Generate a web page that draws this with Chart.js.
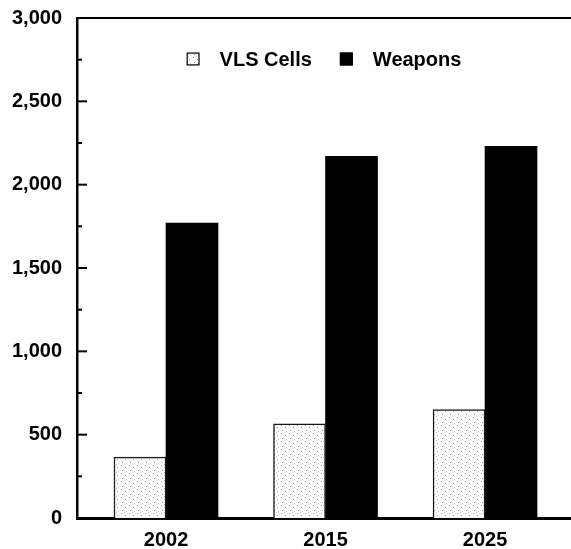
<!DOCTYPE html>
<html>
<head>
<meta charset="utf-8">
<script src="https://cdn.jsdelivr.net/npm/chart.js@4/dist/chart.umd.min.js"></script>
<style>
  html, body { margin: 0; padding: 0; background: #fff; }
  #wrap { width: 571px; height: 549px; }
</style>
</head>
<body>
<div id="wrap"><canvas id="c" width="571" height="549"></canvas></div>
<script>
// ---- data ----
const categories = ['2002', '2015', '2025'];
const seriesNames = ['VLS Cells', 'Weapons'];
const vlsCells = [365, 565, 650];
const weapons = [1770, 2170, 2230];
const yTicks = [0, 500, 1000, 1500, 2000, 2500, 3000];

// ---- styling helpers ----
function makeStipple() {
  const c = document.createElement('canvas');
  c.width = 8; c.height = 8;
  const g = c.getContext('2d');
  g.fillStyle = '#ffffff';
  g.fillRect(0, 0, 8, 8);
  g.fillStyle = '#a0a0a0';
  g.fillRect(1, 1, 1, 1);
  g.fillRect(5, 3, 1, 1);
  g.fillRect(2, 6, 1, 1);
  g.fillStyle = '#d0d0d0';
  g.fillRect(6, 7, 1, 1);
  g.fillRect(4, 0, 1, 1);
  return g.createPattern(c, 'repeat');
}
const stipple = makeStipple();

const FONT = '"Liberation Sans", Arial, Helvetica, sans-serif';
const FONT_CSS = 'bold 20px ' + FONT;

const axisDecor = {
  id: 'axisDecor',
  afterDatasetsDraw(chart) {
    const {ctx, chartArea: a, scales: {y}} = chart;
    ctx.save();
    ctx.strokeStyle = '#000';
    // top border
    ctx.lineWidth = 2;
    ctx.beginPath();
    ctx.moveTo(a.left - 1, a.top);
    ctx.lineTo(a.right, a.top);
    ctx.stroke();
    // inward ticks: major at labelled values, minor halfway
    for (let i = 0; i < yTicks.length; i++) {
      const py = y.getPixelForValue(yTicks[i]);
      if (i > 0 && i < yTicks.length - 1) {
        ctx.beginPath();
        ctx.moveTo(a.left, py);
        ctx.lineTo(a.left + 10, py);
        ctx.stroke();
      }
      if (i < yTicks.length - 1) {
        const pm = y.getPixelForValue((yTicks[i] + yTicks[i + 1]) / 2);
        ctx.beginPath();
        ctx.moveTo(a.left, pm);
        ctx.lineTo(a.left + 5, pm);
        ctx.stroke();
      }
    }
    ctx.restore();
  }
};

// legend drawn inside the plot area, centred horizontally
const innerLegend = {
  id: 'innerLegend',
  afterDraw(chart) {
    const {ctx, chartArea: a} = chart;
    const boxW = 13, boxH = 13, boxGap = 20, itemGap = 28;
    const cy = a.top + 41;
    ctx.save();
    ctx.font = FONT_CSS;
    const items = chart.data.datasets.map(ds => ({ds, w: ctx.measureText(ds.label).width}));
    const total = items.reduce((s, it) => s + boxW + boxGap + it.w, 0) + itemGap * (items.length - 1);
    let x = (a.left + a.right) / 2 - total / 2;
    items.forEach(({ds, w}) => {
      ctx.fillStyle = ds.backgroundColor;
      ctx.fillRect(x, cy - boxH / 2, boxW, boxH);
      ctx.strokeStyle = '#000';
      ctx.lineWidth = 1.2;
      ctx.strokeRect(x + 0.6, cy - boxH / 2 + 0.6, boxW - 1.2, boxH - 1.2);
      ctx.fillStyle = '#000';
      ctx.textBaseline = 'middle';
      ctx.textAlign = 'left';
      ctx.fillText(ds.label, x + boxW + boxGap, cy + 1);
      x += boxW + boxGap + w + itemGap;
    });
    ctx.restore();
  }
};

const chart = new Chart(document.getElementById('c'), {
  type: 'bar',
  data: {
    datasets: [
      {
        label: seriesNames[0],
        data: vlsCells.map((v, i) => ({x: i, y: v})),
        backgroundColor: stipple,
        borderColor: '#1a1a1a',
        borderWidth: 1.5,
        borderSkipped: 'bottom',
        barThickness: 52
      },
      {
        label: seriesNames[1],
        data: weapons.map((v, i) => ({x: i, y: v})),
        backgroundColor: '#000000',
        borderColor: '#000000',
        borderWidth: 0,
        barThickness: 52
      }
    ]
  },
  options: {
    responsive: false,
    animation: false,
    devicePixelRatio: 1,
    layout: { padding: { top: 18, right: 0, left: 0, bottom: 0 } },
    scales: {
      x: {
        type: 'linear',
        offset: false,
        min: -0.558,
        max: 2.539,
        afterBuildTicks(s) { s.ticks = categories.map((_, i) => ({value: i})); },
        afterFit(s) { s.height = 31; s.paddingLeft = 0; s.paddingRight = 0; },
        grid: { display: false, drawTicks: false, offset: false },
        border: { display: true, color: '#000', width: 3 },
        ticks: {
          padding: 10,
          color: '#000',
          font: { family: FONT, size: 20, weight: 'bold' },
          callback: (v) => categories[v]
        }
      },
      y: {
        min: 0,
        max: 3000,
        afterBuildTicks(s) { s.ticks = yTicks.map(v => ({value: v})); },
        afterFit(s) { s.width = 77; s.paddingTop = 10; s.paddingBottom = 10; },
        grid: { display: false, drawTicks: false },
        border: { display: true, color: '#000', width: 2.5 },
        ticks: {
          padding: 15,
          color: '#000',
          font: { family: FONT, size: 20, weight: 'bold' },
          callback: (v) => v.toLocaleString('en-US')
        }
      }
    },
    plugins: {
      tooltip: { enabled: false },
      legend: { display: false }
    }
  },
  plugins: [axisDecor, innerLegend]
});
</script>
</body>
</html>
